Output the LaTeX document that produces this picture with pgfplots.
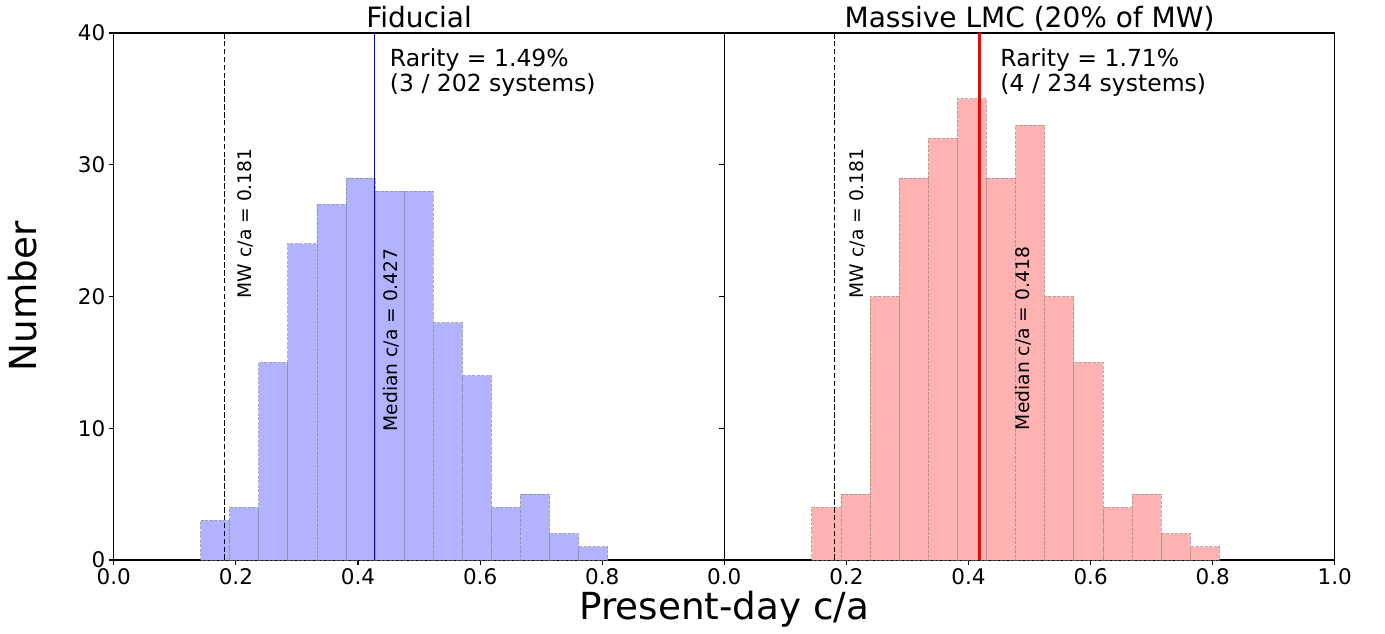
\documentclass[border=0pt]{standalone}
\usepackage{pgfplots}
\pgfplotsset{compat=1.18}
\usepackage{fontspec}
\setmainfont{DejaVu Sans}
\definecolor{hblue}{RGB}{178,178,255}
\definecolor{hred}{RGB}{255,178,178}
\definecolor{medred}{RGB}{255,0,0}
\definecolor{medblue}{RGB}{0,0,255}
\newcommand{\fs}[2]{\fontsize{#1}{#2}\selectfont}
\pgfplotsset{
  panel/.style={
    anchor=south west, scale only axis, width=610.5pt, height=527pt,
    xmin=0, xmax=1, ymin=0, ymax=40, clip=false,
    axis line style={line width=1.1pt},
    tick align=outside, xtick pos=bottom, ytick pos=left,
    major tick length=5pt, every tick/.style={black, line width=1.1pt},
    ytick={0,10,20,30,40},
    /pgf/number format/assume math mode=true,
    xticklabel style={/pgf/number format/.cd, fixed, fixed zerofill, precision=1},
    ticklabel style={font=\fs{21.5}{25}},
    title style={font=\fs{28}{32}, anchor=base, inner sep=0pt, yshift=-0.8pt},
  },
  bars/.style={ybar interval, draw=gray, draw opacity=0.6, line width=0.8pt, dash pattern=on 3pt off 1.5pt},
}
\tikzset{
  ann/.style={rotate=90, anchor=base west, inner sep=0pt, font=\fs{18.7}{20}},
  rar/.style={anchor=base west, inner sep=0pt, font=\fs{23.5}{26}},
}
\begin{document}
\begin{tikzpicture}
\useasboundingbox (0,0) rectangle (1385pt,634pt);
% ---------- left panel ----------
\begin{axis}[panel, at={(113.8pt,74pt)},
  xtick={0,0.2,0.4,0.6,0.8},
  title={Fiducial},
  ylabel={Number},
  ylabel style={at={(axis description cs:-0.1498,0.5)}, anchor=center, inner sep=0pt, font=\fs{37.3}{40}},
]
\addplot[bars, fill=hblue] coordinates {
(0.1423,3) (0.1899,4) (0.2375,15) (0.2851,24) (0.3327,27) (0.3804,29) (0.4280,28)
(0.4756,28) (0.5232,18) (0.5708,14) (0.6184,4) (0.6661,5) (0.7137,2) (0.7613,1) (0.8089,1)};
\addplot[black, line width=1.3pt, dash pattern=on 5.5pt off 2.4pt] coordinates {(0.181,0) (0.181,40)};
\addplot[draw=medblue, line width=1.4pt] coordinates {(0.427,0) (0.427,40)};
\node[ann] at (axis cs:0.2257,19.86) {MW c/a = 0.181};
\node[ann] at (axis cs:0.4654,9.74) {Median c/a = 0.427};
\node[rar] at (axis cs:0.452,37.44) {Rarity = 1.49\%};
\node[rar] at (axis cs:0.452,35.54) {(3 / 202 systems)};
\end{axis}
% ---------- right panel ----------
\begin{axis}[panel, at={(724.3pt,74pt)},
  xtick={0,0.2,0.4,0.6,0.8,1.0},
  yticklabels={},
  title={Massive LMC (20\% of MW)},
]
\addplot[bars, fill=hred] coordinates {
(0.1433,4) (0.1910,5) (0.2387,20) (0.2864,29) (0.3341,32) (0.3818,35) (0.4294,29)
(0.4771,33) (0.5248,20) (0.5725,15) (0.6202,4) (0.6679,5) (0.7156,2) (0.7633,1) (0.8110,1)};
\addplot[black, line width=1.3pt, dash pattern=on 5.5pt off 2.4pt] coordinates {(0.181,0) (0.181,40)};
\addplot[draw=medred, line width=2.1pt] coordinates {(0.418,0) (0.418,40)};
\node[ann] at (axis cs:0.2277,19.86) {MW c/a = 0.181};
\node[ann] at (axis cs:0.5007,9.85) {Median c/a = 0.418};
\node[rar] at (axis cs:0.452,37.44) {Rarity = 1.71\%};
\node[rar] at (axis cs:0.452,35.54) {(4 / 234 systems)};
\node[anchor=base, inner sep=0pt, font=\fs{37.3}{40}] at (rel axis cs:0,-0.1129) {Present-day c/a};
\end{axis}
\end{tikzpicture}
\end{document}
